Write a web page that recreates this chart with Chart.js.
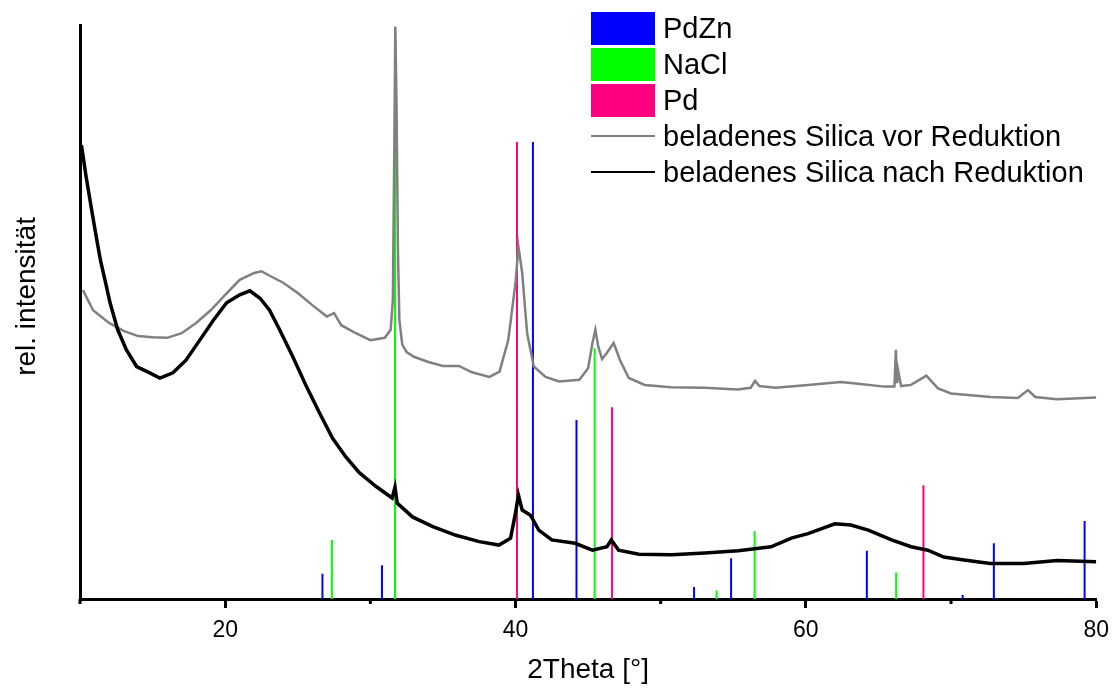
<!DOCTYPE html>
<html lang="de">
<head>
    <meta charset="UTF-8">
    <title>XRD beladenes Silica</title>
    <script src="https://cdn.jsdelivr.net/npm/chart.js"></script>
    <style>
        body {
            margin: 0;
            font-family: Arial, "Liberation Sans", sans-serif;
            background: #fff;
        }
        #wrap {
            position: relative;
            width: 1118px;
            height: 688px;
        }
        #legend {
            position: absolute;
            left: 591px;
            top: 10px;
            font-size: 29px;
            color: #000;
        }
        .row {
            display: flex;
            align-items: center;
            height: 36px;
        }
        .box {
            width: 64px;
            height: 33px;
            margin-right: 8px;
        }
        .ln {
            width: 64px;
            height: 2px;
            margin-right: 8px;
        }
    </style>
</head>
<body>
    <div id="wrap">
        <canvas id="xrd"></canvas>
        <div id="legend">
            <div class="row"><div class="box" style="background:#0000ff"></div>PdZn</div>
            <div class="row"><div class="box" style="background:#00ff00"></div>NaCl</div>
            <div class="row"><div class="box" style="background:#ff0080"></div>Pd</div>
            <div class="row"><div class="ln" style="background:#808080"></div>beladenes Silica vor Reduktion</div>
            <div class="row"><div class="ln" style="background:#000"></div>beladenes Silica nach Reduktion</div>
        </div>
    </div>

    <script>
        // gemessene Diffraktogramme (2Theta, rel. Intensität 0..100)
        const thetaVor = [10.2, 10.9, 12, 13, 14, 15, 16, 17, 18, 19, 20, 21, 22, 22.5, 23, 24, 25, 26, 27, 27.5, 28, 29, 30, 31, 31.4,
            31.55, 31.65, 31.72, 31.8, 31.9, 32.0, 32.2, 32.5, 33, 34, 35, 36.1, 37, 38.2, 38.9, 39.5, 40.0, 40.2, 40.46, 40.8,
            41.26, 42.07, 43, 44.4, 45.0, 45.3, 45.5, 45.7, 45.96, 46.3, 46.76, 47.2, 47.8, 48.9, 50.7, 53.05, 55.3, 56.2, 56.5,
            56.8, 57.9, 60.15, 62.4, 63.6, 65.4, 66.1, 66.2, 66.28, 66.35, 66.56, 67.25, 68.3, 69.1, 70.0, 72.74, 74.6, 75.3,
            75.8, 77.3, 80];
        const intVor = [53.8, 50.3, 48.1, 46.7, 45.8, 45.6, 45.5, 46.3, 48.1, 50.3, 53.0, 55.6, 56.8, 57.1, 56.4, 55.1, 53.3, 51.2, 49.2, 49.8,
            47.7, 46.3, 45.1, 45.5, 46.9, 52.1, 78.2, 99.7, 86.9, 60.8, 48.6, 44.3, 43.0, 42.2, 41.3, 40.6, 40.6, 39.5, 38.7, 39.6,
            45.1, 55.1, 61.4, 56.8, 46.3, 40.5, 38.7, 37.9, 38.2, 40.2, 44.6, 46.9, 44.0, 41.8, 42.9, 44.6, 41.6, 38.5, 37.3, 36.9,
            36.8, 36.5, 36.8, 38.0, 37.1, 36.8, 37.3, 37.8, 37.5, 37.0, 37.0, 43.4, 37.6, 39.9, 37.1, 37.3, 38.9, 36.7, 35.8, 35.2,
            35.0, 36.4, 35.2, 34.8, 35.1];

        const thetaNach = [10.1, 10.4, 10.8, 11.1, 11.4, 11.8, 12.07, 12.6, 13.2, 13.9, 14.8, 15.5, 16.4, 17.3, 18.25, 19.2, 20.1, 21.0,
            21.7, 22.4, 23.06, 23.75, 24.66, 25.6, 26.5, 27.4, 28.3, 29.24, 30.4, 31.5, 31.7, 31.85, 32.9, 34.3, 35.9, 37.5, 38.86,
            39.66, 40.0, 40.2, 40.46, 41.03, 41.6, 42.5, 44.1, 45.3, 46.3, 46.6, 47.1, 48.5, 50.76, 53.05, 55.34, 57.6, 59.0, 60.15,
            62.0, 63.1, 64.3, 65.9, 67.25, 68.4, 69.5, 70.9, 72.7, 75.0, 77.3, 80];
        const intNach = [79.1, 73.9, 67.8, 63.4, 59.1, 54.7, 51.6, 46.9, 43.4, 40.5, 39.4, 38.5, 39.4, 41.6, 45.1, 48.6, 51.6, 53.0,
            53.7, 52.4, 50.3, 46.9, 42.2, 37.0, 32.4, 28.0, 24.8, 22.0, 19.6, 17.6, 19.5, 16.7, 14.3, 12.6, 11.1, 10.0, 9.4,
            10.6, 15.0, 18.1, 15.5, 14.6, 12.0, 10.3, 9.7, 8.5, 9.1, 10.3, 8.5, 7.8, 7.7, 8.0, 8.4, 9.1, 10.6, 11.4,
            13.1, 12.9, 12.0, 10.3, 9.1, 8.5, 7.3, 6.8, 6.2, 6.2, 6.7, 6.5];

        // Referenzreflexe
        const pdznPos = [26.7, 30.8, 41.2, 44.2, 52.3, 54.85, 64.2, 70.8, 72.95, 79.2];
        const pdznInt = [4.4, 5.9, 79.6, 31.2, 2.1, 7.1, 8.4, 0.7, 9.7, 13.6];
        const naclPos = [27.35, 31.7, 45.45, 53.85, 56.47, 66.22];
        const naclInt = [10.3, 79.6, 43.7, 1.5, 11.8, 4.6];
        const pdPos = [40.1, 46.65, 68.1];
        const pdInt = [79.6, 33.4, 19.8];

        const xTickLabels = [20, 40, 60, 80];
        const xMinorTicks = [10, 30, 50, 70];

        function toPoints(xs, ys) {
            return xs.map((x, i) => ({ x: x, y: ys[i] }));
        }

        function sticks(pos, ints) {
            const pts = [];
            pos.forEach((p, i) => {
                pts.push({ x: p, y: 0 }, { x: p, y: ints[i] }, { x: p, y: null });
            });
            return pts;
        }

        const minorTicks = {
            id: 'minorTicks',
            afterDraw(chart) {
                const { ctx, scales: { x } } = chart;
                ctx.save();
                ctx.fillStyle = '#000';
                xMinorTicks.forEach(v => {
                    const px = x.getPixelForValue(v);
                    ctx.fillRect(px - 1.5, x.top, 3, 5);
                });
                ctx.restore();
            }
        };

        const stickStyle = { borderWidth: 2, pointRadius: 0, spanGaps: false, tension: 0, order: 2 };

        new Chart(document.getElementById('xrd'), {
            type: 'line',
            data: {
                datasets: [
                    { label: 'beladenes Silica nach Reduktion', data: toPoints(thetaNach, intNach),
                      borderColor: '#000', borderWidth: 3.5, pointRadius: 0, order: 0 },
                    { label: 'beladenes Silica vor Reduktion', data: toPoints(thetaVor, intVor),
                      borderColor: '#808080', borderWidth: 2.5, pointRadius: 0, order: 1 },
                    { label: 'PdZn', data: sticks(pdznPos, pdznInt), borderColor: '#0000ff', ...stickStyle },
                    { label: 'NaCl', data: sticks(naclPos, naclInt), borderColor: '#00ff00', ...stickStyle },
                    { label: 'Pd', data: sticks(pdPos, pdInt), borderColor: '#ff0080', ...stickStyle }
                ]
            },
            options: {
                responsive: true,
                maintainAspectRatio: false,
                animation: false,
                layout: { padding: { top: 25, right: 20, left: 0, bottom: 0 } },
                plugins: {
                    legend: { display: false },
                    tooltip: { enabled: false }
                },
                scales: {
                    x: {
                        type: 'linear',
                        min: 10,
                        max: 80,
                        border: { color: '#000', width: 3 },
                        grid: {
                            drawOnChartArea: false,
                            tickLength: 9,
                            tickWidth: 3,
                            tickColor: c => xTickLabels.includes(c.tick && c.tick.value) ? '#000' : 'rgba(0,0,0,0)'
                        },
                        ticks: {
                            stepSize: 10,
                            autoSkip: false,
                            maxRotation: 0,
                            color: '#000',
                            padding: 9,
                            font: { family: 'Arial, "Liberation Sans", sans-serif', size: 23 },
                            callback: v => xTickLabels.includes(v) ? v : ''
                        },
                        title: {
                            display: true,
                            text: '2Theta [°]',
                            color: '#000',
                            font: { family: 'Arial, "Liberation Sans", sans-serif', size: 28 },
                            padding: { top: 2, bottom: 1 }
                        },
                        afterFit: s => { s.height = 89; }
                    },
                    y: {
                        min: 0,
                        max: 100,
                        border: { color: '#000', width: 3 },
                        grid: { display: false },
                        ticks: { display: false },
                        title: {
                            display: true,
                            text: '    rel. intensität',
                            color: '#000',
                            font: { family: 'Arial, "Liberation Sans", sans-serif', size: 28 },
                            padding: { top: 10, bottom: 0 }
                        },
                        afterFit: s => { s.width = 80; }
                    }
                }
            },
            plugins: [minorTicks]
        });
    </script>
</body>
</html>
